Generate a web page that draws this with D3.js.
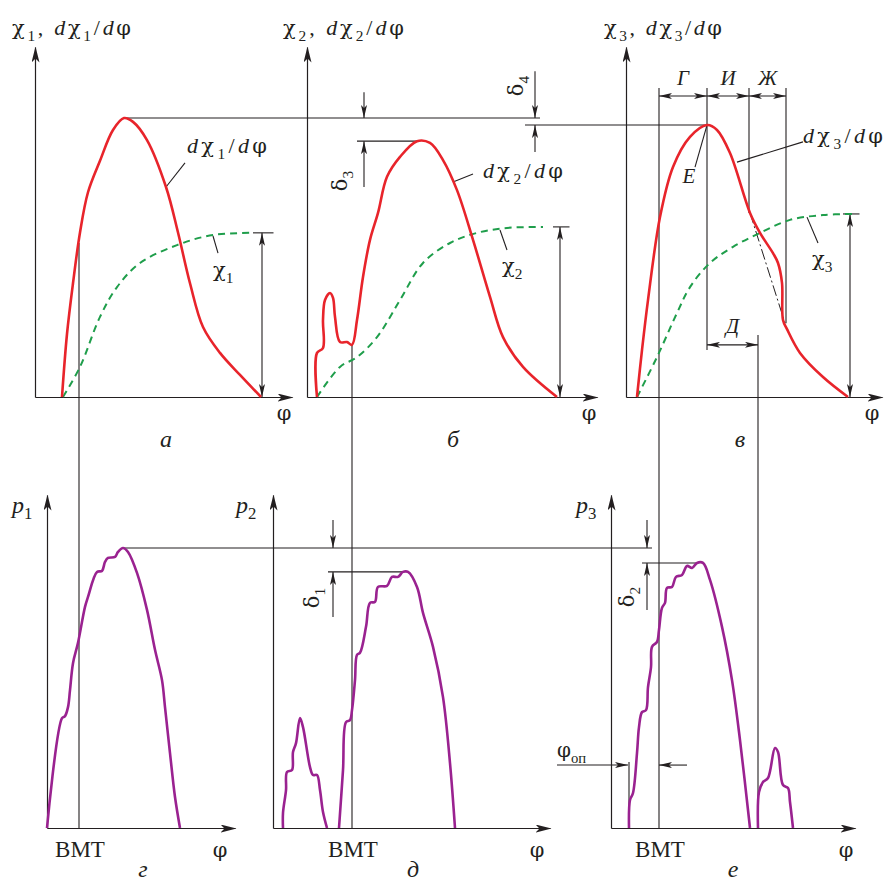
<!DOCTYPE html>
<html>
<head>
<meta charset="utf-8">
<script src="https://cdn.jsdelivr.net/npm/d3@7"></script>
<style>
body { margin: 0; background: #fff; }
svg { display: block; font-family: 'Liberation Serif', 'Times New Roman', serif; }
</style>
</head>
<body>
<svg id="chart"></svg>
<script>
'use strict';

// upper row: [φ, value], φ and value both in 0..100 units of each panel
var dChi1 = [[10.8,0],[12.8,18],[15.2,32.5],[18,47],[21.2,58.5],[26,67.5],[31.2,76.3],[35.6,79.7],
    [39.2,78.6],[44.8,73.4],[52.4,60],[57.2,47],[62,32.5],[67.2,20],[74,12.6],[82,6.3],[90.4,0]];
var chi1 = [[11.2,0],[18,8.6],[26,22.9],[32.8,31.4],[42,38.3],[56.8,43.4],[71.2,46.3],[87.2,46.9]];

var dChi2 = [[4,0],[4,12.6],[6.4,14],[6.4,22],[7.2,27.7],[9.2,29.7],[10.4,28.3],[11.2,22.9],[13.2,15.7],
    [16,15.7],[18,14.9],[20,22],[22.4,34.3],[25.2,44.9],[28.4,52.6],[32,62.9],[37.2,68.6],[44,73.1],
    [49.2,72.6],[54.4,67.7],[60,59.1],[66.4,44.9],[73.2,28.6],[78.4,17.1],[86.4,8.6],[100,0]];
var chi2 = [[4,0],[13.2,8.6],[20,11.4],[28,17.1],[37.2,27.7],[46.4,38.3],[57.2,44],[68,46.9],[80,48.3],[94.4,48.6]];

var dChi3 = [[4.4,0],[6.4,13.4],[8.8,27.7],[13.6,51.4],[18.8,65.7],[25.6,74.3],[32.4,77.7],[36.4,76.3],
    [41.6,69.7],[49.6,52.6],[53.6,46.9],[58.8,41.1],[60.8,38.3],[62.4,32.6],[62.8,22],[64.4,19.4],
    [69.6,12.6],[78.8,5.7],[88.8,0]];
var chi3 = [[4.4,0],[12.4,11.4],[20.4,24],[25.6,31.4],[33.6,38.3],[42.8,42.9],[53.6,46.9],[65.6,50.6],[78.8,52],[90.8,52.3]];
var dChi3NoAfter = [[49.6,52.6],[63.6,21.1]];

// lower row: cylinder pressure
var p1 = [[0,0],[6,33],[7.2,33.6],[8.4,36.3],[9.2,41.4],[10.4,49.5],[12.4,55.6],[15.2,66.4],[16.4,69.4],
    [20,76.9],[22,77.2],[23.2,79.9],[24.4,81.1],[27.2,81.4],[28.4,82.9],[30.4,84.1],[32.4,82.9],[36,76.6],
    [40,65.5],[43.2,53.5],[46,44.4],[47.2,36.3],[49.2,22.5],[51.2,9.3],[53.2,0]];
var p2Pilot = [[4,0],[4,4.5],[5.2,11.4],[5.6,16.8],[7.6,17.4],[8,22.8],[9.2,25.5],[10.8,33],[12,30.3],
    [14.8,18.3],[16,15.9],[17.6,15.9],[18.8,11.4],[20,4.8],[21.6,0]];
var p2 = [[26.4,0],[28,17.4],[29.2,31.8],[30.8,32.4],[31.6,35.4],[32.8,44.4],[33.6,52],[34.8,52.6],
    [37.2,60.4],[38.8,67.6],[40.8,67.9],[42,72.4],[45.6,72.7],[47.6,75.4],[50,75.4],[52,76.9],[54,76.9],
    [57.6,72.4],[60,64.6],[64,54.4],[68,39.3],[70.8,19.5],[72.8,0]];
var p3 = [[7.2,0],[7.6,8.4],[8.8,10.5],[10.4,22.5],[11.2,30.3],[12.4,34.8],[14,35.4],[14.8,42.3],
    [16,48.3],[16.4,54.4],[18.4,55.9],[19.2,59.5],[20.4,66.1],[21.6,67.6],[22.4,72.1],[24.4,72.4],
    [26,75.4],[28.4,76],[30.4,78.7],[32.4,78.1],[34.4,79.6],[36.8,79.6],[39.6,74.5],[44.4,60.4],
    [48.4,44.4],[51.6,26.4],[55.6,0]];
var p3After = [[58.8,0],[59.2,10.8],[60.8,13.8],[62.8,15],[65.6,24],[66.8,22.8],[68.8,12.9],[70.8,12],[71.6,7.8],[72.8,0]];

// reference angles
var bmtTop = [17.6, 18, 13.2];
var bmtBottom = [12.8, 31.6, 19.2];
var stagesC = [13.2, 32.4, 49.2, 64];
var stageLabels = ['Г', 'И', 'Ж'];
var afterC = 52.8;
var phiInj = 7.2;

var width = 885, height = 886;
var ink = '#231f20', red = '#e8242b', green = '#1f9e4b', purple = '#9a2290';

var svg = d3.select('#chart').attr('width', width).attr('height', height);

var defs = svg.append('defs');
defs.append('marker').attr('id', 'ax')
    .attr('viewBox', '0 0 16 8').attr('markerUnits', 'userSpaceOnUse')
    .attr('markerWidth', 16).attr('markerHeight', 8)
    .attr('refX', 15).attr('refY', 4).attr('orient', 'auto')
    .append('path').attr('d', 'M0,0 L16,4 L0,8 L4,4 Z').attr('fill', ink);
defs.append('marker').attr('id', 'dim')
    .attr('viewBox', '0 0 13 6').attr('markerUnits', 'userSpaceOnUse')
    .attr('markerWidth', 13).attr('markerHeight', 6)
    .attr('refX', 13).attr('refY', 3).attr('orient', 'auto-start-reverse')
    .append('path').attr('d', 'M0,0 L13,3 L0,6 L3,3 Z').attr('fill', ink);

var yTop = d3.scaleLinear().domain([0, 100]).range([397, 47]);
var yBot = d3.scaleLinear().domain([0, 100]).range([828, 495]);
function phiScale(x0) { return d3.scaleLinear().domain([0, 100]).range([x0, x0 + 250]); }
var xa = phiScale(35), xb = phiScale(307), xc = phiScale(626);
var xg = phiScale(47), xd = phiScale(273), xe = phiScale(611);

var lines = svg.append('g').attr('stroke', ink).attr('stroke-width', 1.1).attr('fill', 'none');

function seg(x1, y1, x2, y2, start, end) {
    var l = lines.append('line').attr('x1', x1).attr('y1', y1).attr('x2', x2).attr('y2', y2);
    if (start) l.attr('marker-start', 'url(#dim)');
    if (end) l.attr('marker-end', 'url(#dim)');
    return l;
}

function axes(x, y, xEnd) {
    var g = svg.append('g').style('color', ink);
    g.append('g').attr('transform', 'translate(0,' + y(0) + ')')
        .call(d3.axisBottom(x.copy().domain([0, xEnd]).range([x(0), x(xEnd)])).tickValues([]).tickSizeOuter(0))
        .select('.domain').attr('stroke-width', 1.2).attr('marker-end', 'url(#ax)');
    g.append('g').attr('transform', 'translate(' + x(0) + ',0)')
        .call(d3.axisLeft(y).tickValues([]).tickSizeOuter(0))
        .select('.domain').attr('stroke-width', 1.2).attr('marker-end', 'url(#ax)');
}

axes(xa, yTop, 102.8);
axes(xb, yTop, 116);
axes(xc, yTop, 102.4);
axes(xg, yBot, 75.2);
axes(xd, yBot, 110.8);
axes(xe, yBot, 97.6);

function last(a) { return a[a.length - 1][1]; }
function peak(a) { return a.reduce(function (m, d) { return d[1] > m[1] ? d : m; }); }

// χ height dimensions
[[xa, chi1, 90.8, 3.6], [xb, chi2, 101.2, 2.8], [xc, chi3, 89.6, 2.8]].forEach(function (d) {
    var x = d[0], top = last(d[1]);
    seg(x(d[2] - d[3]), yTop(top), x(d[2] + d[3] + 1), yTop(top));
    seg(x(d[2]), yTop(0), x(d[2]), yTop(top), true, true);
});

// peak levels, upper row
var pkA = peak(dChi1), pkB = peak(dChi2), pkC = peak(dChi3);
seg(xa(pkA[0]), yTop(pkA[1]), xb(93.2), yTop(pkA[1]));
seg(xb(87.2), yTop(pkC[1]), xc(pkC[0]), yTop(pkC[1]));
seg(xb(20), yTop(pkB[1]), xb(pkB[0]), yTop(pkB[1]));
seg(xb(22.8), yTop(87.1), xb(22.8), yTop(pkA[1]), false, true);
seg(xb(22.8), yTop(60), xb(22.8), yTop(pkB[1]), false, true);
seg(xb(91.2), yTop(93.1), xb(91.2), yTop(pkA[1]), false, true);
seg(xb(91.2), yTop(70), xb(91.2), yTop(pkC[1]), false, true);

// stages of combustion, panel в
seg(xc(stagesC[1]), yTop(88.3), xc(stagesC[1]), yTop(13.4));
seg(xc(stagesC[2]), yTop(88.3), xc(stagesC[2]), yTop(52.6));
seg(xc(stagesC[3]), yTop(88.3), xc(stagesC[3]), yTop(21.1));
for (var i = 0; i < 3; i++) {
    seg(xc(stagesC[i]), yTop(86), xc(stagesC[i + 1]), yTop(86), true, true);
}
seg(xc(stagesC[1]), yTop(14.9), xc(afterC), yTop(14.9), true, true);
seg(xc(afterC), yTop(17.7), xe(58.8), yBot(0));

// BMT lines through both rows
seg(xa(bmtTop[0]), yTop(44), xg(bmtBottom[0]), yBot(0));
seg(xb(bmtTop[1]), yTop(14.9), xd(bmtBottom[1]), yBot(0));
seg(xc(bmtTop[2]), yTop(88.3), xe(bmtBottom[2]), yBot(0));

// peak levels, lower row
var pk1 = peak(p1), pk2 = peak(p2), pk3 = peak(p3);
seg(xg(pk1[0]), yBot(pk1[1]), xe(16.4), yBot(pk1[1]));
seg(xd(22), yBot(pk2[1]), xd(pk2[0]), yBot(pk2[1]));
seg(xd(24), yBot(92.5), xd(24), yBot(pk1[1]), false, true);
seg(xd(24), yBot(63.4), xd(24), yBot(pk2[1]), false, true);
seg(xe(12.4), yBot(pk3[1]), xe(pk3[0]), yBot(pk3[1]));
seg(xe(14.4), yBot(92.5), xe(14.4), yBot(pk1[1]), false, true);
seg(xe(14.4), yBot(65.5), xe(14.4), yBot(pk3[1]), false, true);

// injection advance
seg(xe(-21.6), yBot(18.9), xe(phiInj - 0.4), yBot(18.9), false, true);
seg(xe(phiInj), yBot(19.8), xe(phiInj), yBot(0));
seg(xe(30.4), yBot(18.9), xe(bmtBottom[2]), yBot(18.9), false, true);

// leaders
seg(xa(52.4), yTop(60), xa(60), yTop(66.9));
seg(xa(71.2), yTop(46), xa(73.2), yTop(41.1));
seg(xb(58.4), yTop(61.4), xb(66.4), yTop(63.7));
seg(xb(77.2), yTop(47.7), xb(80), yTop(42));
seg(xc(pkC[0]), yTop(pkC[1]), xc(27.6), yTop(65.7));
seg(xc(44.4), yTop(67.1), xc(70.8), yTop(72.9));
seg(xc(72.4), yTop(51.4), xc(76.8), yTop(44));

// curves
function lineGen(x, y) {
    return d3.line()
        .x(function (d) { return x(d[0]); })
        .y(function (d) { return y(d[1]); })
        .curve(d3.curveCatmullRom.alpha(0.5));
}

svg.append('path').datum(dChi3NoAfter)
    .attr('d', d3.line().x(function (d) { return xc(d[0]); }).y(function (d) { return yTop(d[1]); }))
    .attr('fill', 'none').attr('stroke', ink).attr('stroke-width', 1)
    .attr('stroke-dasharray', '11,3,2,3');

[[chi1, xa], [chi2, xb], [chi3, xc]].forEach(function (d) {
    svg.append('path').datum(d[0]).attr('d', lineGen(d[1], yTop))
        .attr('fill', 'none').attr('stroke', green).attr('stroke-width', 2)
        .attr('stroke-dasharray', '7,5');
});
[[dChi1, xa], [dChi2, xb], [dChi3, xc]].forEach(function (d) {
    svg.append('path').datum(d[0]).attr('d', lineGen(d[1], yTop))
        .attr('fill', 'none').attr('stroke', red).attr('stroke-width', 2.6)
        .attr('stroke-linejoin', 'round');
});
[[p1, xg], [p2Pilot, xd], [p2, xd], [p3, xe], [p3After, xe]].forEach(function (d) {
    svg.append('path').datum(d[0]).attr('d', lineGen(d[1], yBot))
        .attr('fill', 'none').attr('stroke', purple).attr('stroke-width', 2.6)
        .attr('stroke-linejoin', 'round');
});

// text; flags: i italic, s subscript, g greek
function rich(x, y, parts, size, opts) {
    opts = opts || {};
    var t = svg.append('text').attr('x', x).attr('y', y)
        .style('font-size', size + 'px').attr('fill', ink)
        .attr('text-anchor', opts.anchor || 'start');
    if (opts.rotate) t.attr('transform', 'rotate(' + opts.rotate + ',' + x + ',' + y + ')');
    var shift = 0;
    parts.forEach(function (p) {
        var s = t.append('tspan').text(p[0]);
        var f = p[1] || '';
        var sub = f.indexOf('s') >= 0 ? size * 0.27 : 0;
        if (sub - shift) s.attr('dy', sub - shift);
        shift = sub;
        if (sub) s.style('font-size', (size * 0.7) + 'px');
        if (f.indexOf('g') >= 0) s.style('font-family', "'DejaVu Serif', serif").style('font-size', (size * 0.95) + 'px');
        if (f.indexOf('i') >= 0) s.style('font-style', 'italic');
    });
    if (opts.len) t.attr('textLength', opts.len).attr('lengthAdjust', 'spacing');
    return t;
}

function title(n) {
    return [['χ', 'g'], [n, 's'], [', '], ['d', 'i'], ['χ', 'g'], [n, 's'], ['/'], ['d', 'i'], ['φ', 'g']];
}
function deriv(n) {
    return [['d', 'i'], ['χ', 'g'], [n, 's'], ['/'], ['d', 'i'], ['φ', 'g']];
}

rich(12, 35, title('1'), 22, {len: 119});
rich(283, 35, title('2'), 22, {len: 121});
rich(604, 35, title('3'), 22, {len: 118});

rich(187, 153, deriv('1'), 22, {len: 80});
rich(483, 178, deriv('2'), 22, {len: 80});
rich(803, 143, deriv('3'), 22, {len: 80});

rich(213, 277, [['χ', 'g'], ['1', 's']], 22);
rich(502, 273, [['χ', 'g'], ['2', 's']], 22);
rich(812, 266, [['χ', 'g'], ['3', 's']], 22);

stageLabels.forEach(function (s, i) {
    rich((xc(stagesC[i]) + xc(stagesC[i + 1])) / 2, 85, [[s, 'i']], 21, {anchor: 'middle'});
});
rich((xc(stagesC[1]) + xc(afterC)) / 2, 333, [['Д', 'i']], 21, {anchor: 'middle'});
rich(689, 183, [['E', 'i']], 21, {anchor: 'middle'});

rich(347, 181, [['δ', 'g'], ['3', 's']], 22, {anchor: 'middle', rotate: -90});
rich(523, 86, [['δ', 'g'], ['4', 's']], 22, {anchor: 'middle', rotate: -90});
rich(319, 598, [['δ', 'g'], ['1', 's']], 22, {anchor: 'middle', rotate: -90});
rich(634, 597, [['δ', 'g'], ['2', 's']], 22, {anchor: 'middle', rotate: -90});

rich(12, 513, [['p', 'i'], ['1', 's']], 24);
rich(236, 513, [['p', 'i'], ['2', 's']], 24);
rich(576, 513, [['p', 'i'], ['3', 's']], 24);

rich(557, 757, [['φ', 'g'], ['оп', 's']], 21);

['а', 'б', 'в'].forEach(function (s, i) {
    rich([166, 453, 740][i], 447, [[s, 'i']], 24, {anchor: 'middle'});
});
['г', 'д', 'е'].forEach(function (s, i) {
    rich([143, 413, 733][i], 877, [[s, 'i']], 24, {anchor: 'middle'});
});

[284, 589, 872].forEach(function (x) { rich(x, 420, [['φ', 'g']], 22, {anchor: 'middle'}); });
[220, 537, 846].forEach(function (x) { rich(x, 857, [['φ', 'g']], 22, {anchor: 'middle'}); });
[xg(bmtBottom[0]), xd(bmtBottom[1]), xe(bmtBottom[2])].forEach(function (x) {
    rich(x + 1, 857, [['ВМТ']], 23, {anchor: 'middle'});
});
</script>
</body>
</html>
